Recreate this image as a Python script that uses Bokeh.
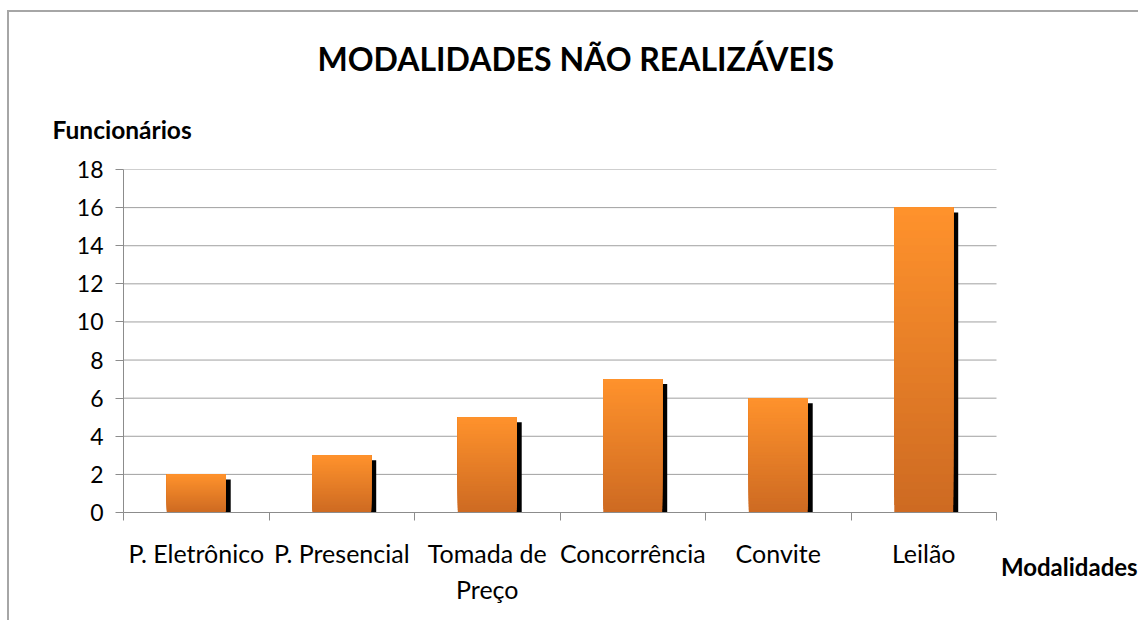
from bokeh.plotting import figure
from bokeh.models import Range1d, FixedTicker, ColumnDataSource, Title, LinearAxis
from bokeh.embed import file_html
from bokeh.resources import INLINE
import numpy as np

# ---- data ----
categories = ["P. Eletrônico", "P. Presencial", "Tomada de\nPreço", "Concorrência", "Convite", "Leilão"]
values = [2, 3, 5, 7, 6, 16]
y_ticks = [0, 2, 4, 6, 8, 10, 12, 14, 16, 18]
title_text = "MODALIDADES NÃO REALIZÁVEIS"
y_title = "Funcionários"
x_title = "Modalidades"

FONT = "Lato"
GRID = "#a0a0a0"
AXIS = "#8c8c8c"
n = len(categories)
centers = [i + 0.5 for i in range(n)]
x_end = n + 144 / 145.5          # frame runs on to the right edge (room for the x title)
x_title_pos = n + 0.5            # where the x title sits along the x scale

p = figure(width=1131, height=610, output_backend="svg", toolbar_location=None,
           x_range=Range1d(0, x_end), y_range=Range1d(0, 18),
           min_border_left=114, min_border_right=0, min_border_top=157, min_border_bottom=110,
           margin=(10, 0, 0, 7))
p.title.text = ""
p.outline_line_color = None
p.background_fill_color = "white"
p.border_fill_color = "white"
p.styles = {"border-top": "2px solid #a6a6a6", "border-left": "2px solid #a6a6a6"}

# x axis (categories)
xa = p.xaxis[0]
xa.bounds = (0, n)
xa.ticker = FixedTicker(ticks=centers, minor_ticks=list(range(n + 1)))
xa.major_label_overrides = {c: lab for c, lab in zip(centers, categories)}
xa.major_tick_line_color = None
xa.major_tick_out = 0
xa.minor_tick_out = 8
xa.minor_tick_in = 0
xa.minor_tick_line_color = AXIS
xa.axis_line_color = AXIS
xa.major_label_text_font = FONT
xa.major_label_text_font_size = "25px"
xa.major_label_text_color = "black"
xa.major_label_standoff = 17

# second bottom axis carrying only the bold x title
xt = LinearAxis(ticker=FixedTicker(ticks=[x_title_pos]),
                major_label_overrides={x_title_pos: x_title},
                major_tick_line_color=None, minor_tick_line_color=None,
                major_tick_out=0, minor_tick_out=0, axis_line_color=None,
                major_label_text_font=FONT, major_label_text_font_style="bold",
                major_label_text_font_size="24px", major_label_text_color="black",
                major_label_standoff=-55)
p.add_layout(xt, "below")

# y axis
ya = p.yaxis[0]
ya.bounds = (0, 18)
ya.ticker = FixedTicker(ticks=y_ticks)
ya.minor_tick_line_color = None
ya.major_tick_out = 8
ya.major_tick_in = 0
ya.major_tick_line_color = AXIS
ya.axis_line_color = AXIS
ya.major_label_text_font = FONT
ya.major_label_text_font_size = "23px"
ya.major_label_text_color = "black"
ya.major_label_standoff = 12

p.xgrid.visible = False
p.ygrid.visible = False
gy = y_ticks[1:]
p.segment(x0=[0] * len(gy), x1=[n] * len(gy), y0=gy, y1=gy, line_color=GRID, line_width=1)

# shadow (offset ~5px right/down)
bar_w = 0.405
px_x = 1 / 145.5
px_y = 18 / 343.0
sh = ColumnDataSource(dict(x=[c + 5 * px_x for c in centers],
                           top=[v - 5 * px_y for v in values]))
p.vbar(x="x", top="top", bottom=0, width=bar_w, source=sh, fill_color="black", line_color=None)

# gradient bars built from overlapping strips (bottom dark -> top bright)
c_top = np.array([255, 146, 44])
c_bot = np.array([205, 106, 34])
steps = 40
xs, bots, tops, cols = [], [], [], []
for c, v in zip(centers, values):
    for k in range(steps):
        f = (k + 0.5) / steps
        col = c_bot + (c_top - c_bot) * f
        xs.append(c); bots.append(v * k / steps); tops.append(v)
        cols.append("#%02x%02x%02x" % tuple(int(round(u)) for u in col))
p.vbar(x=xs, bottom=bots, top=tops, width=bar_w, fill_color=cols, line_color=None)

# titles (first added sits closest to the frame)
p.add_layout(Title(text=y_title, align="left", offset=-71, standoff=52,
                   text_font=FONT, text_font_style="bold", text_font_size="24.5px",
                   text_color="black"), "above")
p.add_layout(Title(text=title_text, align="left", offset=194, standoff=18,
                   text_font=FONT, text_font_style="bold", text_font_size="32px",
                   text_color="black"), "above")

open("out.html", "w").write(file_html(p, INLINE))
